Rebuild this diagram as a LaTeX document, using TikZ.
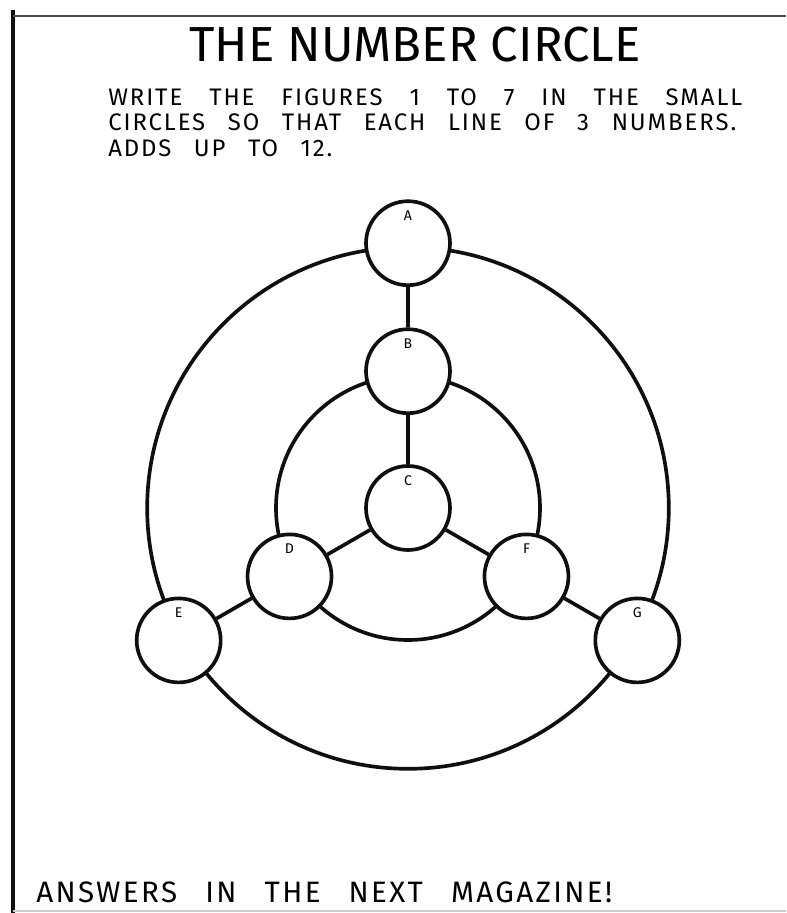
\documentclass[tikz,border=0pt]{standalone}
\usepackage{fontspec}
\setmainfont{Fira Sans}
\newfontfamily\handfont[LetterSpace=8]{Fira Sans}
\usetikzlibrary{positioning,backgrounds}
\definecolor{ink}{RGB}{15,15,15}
\tikzset{
  spot/.style={circle,draw=ink,fill=white,line width=2.6pt,minimum size=2.1cm,inner sep=0pt},
  tag/.style={anchor=north,inner sep=0pt,yshift=-0.28cm,font=\fontsize{10}{10}\selectfont},
  wire/.style={draw=ink,line width=2.6pt},
  head/.style={anchor=base,inner sep=0pt,font=\fontsize{35}{35}\selectfont},
  body/.style={anchor=base west,inner sep=0pt,font=\handfont\fontsize{17}{17}\selectfont},
  foot/.style={anchor=base west,inner sep=0pt,font=\handfont\fontsize{21}{21}\selectfont},
}

\begin{document}
\begin{tikzpicture}
  \useasboundingbox (-10.2,-10.125) rectangle (9.45,12.7);
  % frame
  \draw[ink,line width=2.4pt] (-9.875,12.45) -- (-9.875,-10.125);
  \draw[ink!75,line width=2pt] (-9.875,12.3) -- (9.45,12.3);
  \draw[ink!20,line width=0.8pt] (-9.875,-10.075) -- (9.45,-10.075);

  \node[head] (title) at (0.175,11.15) {THE NUMBER CIRCLE};
  \node[body] (rule1) at (-7.5,10.05) {\makebox[15.85cm][s]{WRITE THE FIGURES 1 TO 7 IN THE SMALL}};
  \node[body] (rule2) at (-7.5,9.43) {\makebox[15.7cm][s]{CIRCLES SO THAT EACH LINE OF 3 NUMBERS.}};
  \node[body] (rule3) at (-7.5,8.78) {\makebox[5.6cm][s]{ADDS UP TO 12.}};

  \node[spot,label={[tag]90:C}] (C) at (0,0) {};
  \foreach \n/\m/\a in {B/A/90,D/E/210,F/G/330} {
    \node[spot,label={[tag]90:\n}] (\n) at (\a:3.42) {};
    \node[spot,label={[tag]90:\m}] (\m) at (\a:6.62) {};
  }
  \begin{pgfonlayer}{background}
    \fill[white] (-10.2,-10.125) rectangle (9.45,12.7);
    \draw[wire] (C) circle[radius=6.52];
    \draw[wire] (C) circle[radius=3.3];
    \draw[wire] (A) -- (B) -- (C) -- (D) -- (E);
    \draw[wire] (C) -- (F) -- (G);
  \end{pgfonlayer}

  \node[foot] (answers) at (-9.3,-9.85) {\makebox[14.4cm][s]{ANSWERS IN THE NEXT MAGAZINE!}};
\end{tikzpicture}
\end{document}
